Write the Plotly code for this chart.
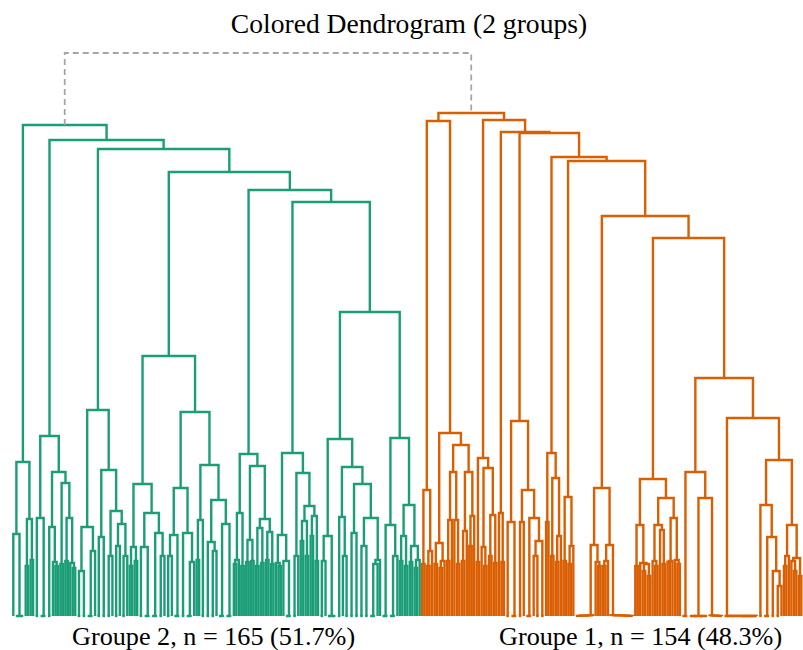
import plotly.graph_objects as go

# ---------------- data ----------------
TITLE = "Colored Dendrogram (2 groups)"
GROUP_NAMES = ["Groupe 2", "Groupe 1"]
GROUP_SIZES = [165, 154]
GROUP_COLORS = ["#1b9e77", "#d95f02"]
ROOT_COLOR = "#a6a6a6"

# height of the link joining the two groups
ROOT_HEIGHT = 563

# merge height between each pair of adjacent leaves (dendrogram order), group 2 (left)
green_gaps = [
    82, 0, 0, 0, 154, 50, 97, 56,
    491,
    0, 98, 0, 0, 180, 0, 89, 54, 50, 144, 52, 133, 55, 98, 53, 48,
    476,
    0, 45, 0, 89, 0, 0, 65, 206, 0, 79, 0, 146, 0, 60, 105, 0, 70, 92, 0, 60,
    467,
    50, 69, 55, 132, 0, 69, 0, 0, 103, 0, 0, 83, 0, 60, 260,
    0, 60, 81, 0, 0, 128, 0, 83, 0, 0, 54, 204,
    56, 96, 0, 151, 0, 74, 0, 65, 116, 0, 0, 92, 0, 0,
    444,
    52, 56, 103, 50, 162, 54, 76, 55, 150, 50, 88, 53, 97, 56, 84, 52,
    426,
    53, 50, 81, 55, 0, 0, 163, 0, 60, 143, 75, 95, 60, 110, 80, 100, 55,
    414,
    0, 55, 80, 0, 0, 0, 177, 0, 99, 60, 0, 149, 0, 83, 0, 132,
    0, 70, 0, 98, 0, 0, 52, 56,
    304,
    0, 0, 91, 0, 0, 60, 178, 55, 80, 50, 111, 54, 70, 48, 56,
]

# merge height between each pair of adjacent leaves, group 1 (right)
orange_gaps = [
    52, 126, 50, 65,
    495,
    52, 73, 48, 55, 183, 55, 96, 144, 96, 52, 171, 55, 85, 144, 70, 100,
    503,
    54, 158, 69, 50, 148, 60, 101, 53,
    496,
    103, 54,
    484,
    0, 94, 0, 0, 195, 0, 94, 126, 0, 0, 98, 60, 0, 75, 0,
    483,
    94, 163, 60, 138, 54, 80,
    459,
    55, 119, 52, 70,
    455,
    0.1, 0.2, 0.3, 0.4, 0.5, 0.6, 0.7, 71, 54, 50,
    128,
    50, 55, 71, 0.9, 0.8, 0.7, 0.6, 0.5, 0.4, 0.3, 0.2, 0.1,
    400,
    50, 91, 53, 45, 52, 40,
    137,
    55, 50, 91, 86, 52,
    118,
    54, 55, 98, 56, 52,
    378,
    0, 0,
    144,
    0, 0, 0, 0, 0, 0, 0,
    118,
    0.5, 0.4, 0.3, 0.2, 0.1,
    238,
    0.13, 0.12, 0.11, 0.1, 0.09, 0.08, 0.07, 0.06, 0.05, 0.04, 0.03, 0.02, 0.01,
    198,
    0,
    111,
    0, 0, 79, 0, 45, 0, 30,
    156,
    50, 60, 91, 55, 45, 58, 40,
]

# ---------------- build tree from adjacent-leaf merge heights ----------------
gaps = green_gaps + [ROOT_HEIGHT] + orange_gaps
n_leaves = len(gaps) + 1
n_green = len(green_gaps) + 1

links = []  # (x_left, h_left, x_right, h_right, x_node, h_node, lo, hi)


def build(lo, hi):
    if lo == hi:
        return float(lo), 0.0
    seg = gaps[lo:hi]
    m = max(seg)
    idx = [k for k, v in enumerate(seg) if v == m]
    split = lo + idx[len(idx) // 2]
    xl, hl = build(lo, split)
    xr, hr = build(split + 1, hi)
    xn = (xl + xr) / 2.0
    links.append((xl, hl, xr, hr, xn, m, lo, hi))
    return xn, m


build(0, n_leaves - 1)

paths = {0: ([], []), 1: ([], []), "root": ([], [])}
for xl, hl, xr, hr, xn, h, lo, hi in links:
    if hi < n_green:
        key = 0
    elif lo >= n_green:
        key = 1
    else:
        key = "root"
    xs, ys = paths[key]
    xs += [xl, xl, xr, xr, None]
    ys += [hl, h, h, hr, None]

fig = go.Figure()
for key, color in [(0, GROUP_COLORS[0]), (1, GROUP_COLORS[1])]:
    xs, ys = paths[key]
    fig.add_trace(go.Scatter(x=xs, y=ys, mode="lines",
                             line=dict(color=color, width=2.4),
                             hoverinfo="skip", showlegend=False))
xs, ys = paths["root"]
fig.add_trace(go.Scatter(x=xs, y=ys, mode="lines",
                         line=dict(color=ROOT_COLOR, width=1.8, dash="6px,4px"),
                         hoverinfo="skip", showlegend=False))

# ---------------- layout ----------------
W, H = 803, 650
px_per_leaf = 2.478
x_first_px = 13.3
x0 = -x_first_px / px_per_leaf
x1 = x0 + W / px_per_leaf

total = sum(GROUP_SIZES)
labels = [f"{GROUP_NAMES[i]}, n = {GROUP_SIZES[i]} ({100 * GROUP_SIZES[i] / total:.1f}%)"
          for i in range(2)]
label_x_px = [213.5, 640]

annotations = []
for i in range(2):
    annotations.append(dict(text=labels[i], x=label_x_px[i] / W, y=-0.0105,
                            xref="paper", yref="paper", xanchor="center",
                            yanchor="middle", showarrow=False,
                            font=dict(family="Liberation Serif", size=26.2, color="#000")))

fig.update_layout(
    width=W, height=H,
    margin=dict(l=0, r=0, t=40, b=20),
    paper_bgcolor="white", plot_bgcolor="white",
    title=dict(text=TITLE, x=409 / W, y=1 - 23 / H, xanchor="center", yanchor="middle",
               font=dict(family="Liberation Serif", size=27.6, color="#000")),
    xaxis=dict(visible=False, range=[x0, x1]),
    yaxis=dict(visible=False, range=[-14, 576]),
    annotations=annotations,
    showlegend=False,
)

fig.write_html("out.html")
